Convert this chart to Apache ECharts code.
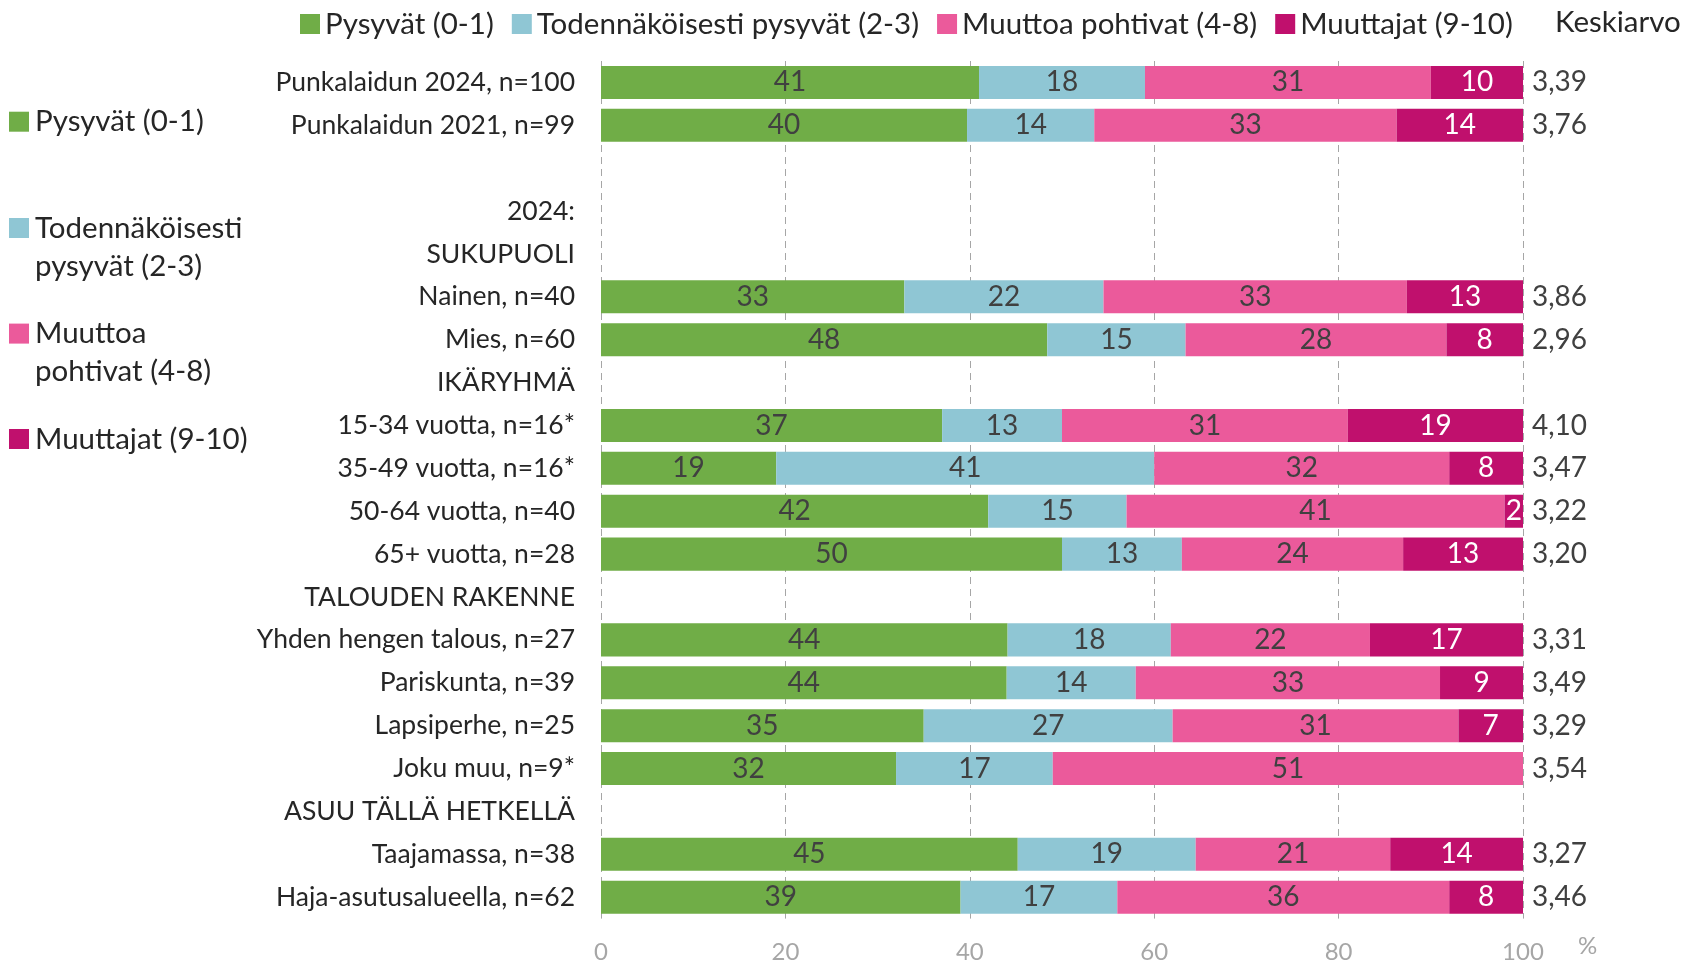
<!DOCTYPE html>
<html><head><meta charset="utf-8">
<script src="https://cdn.jsdelivr.net/npm/echarts@6/dist/echarts.min.js"></script>
<style>html,body{margin:0;padding:0;background:#fff}#c{width:1704px;height:973px}</style>
</head><body><div id="c"></div>
<script>
const categories = ['Punkalaidun 2024, n=100','Punkalaidun 2021, n=99','','2024:','SUKUPUOLI','Nainen, n=40','Mies, n=60','IKÄRYHMÄ','15-34 vuotta, n=16*','35-49 vuotta, n=16*','50-64 vuotta, n=40','65+ vuotta, n=28','TALOUDEN RAKENNE','Yhden hengen talous, n=27','Pariskunta, n=39','Lapsiperhe, n=25','Joku muu, n=9*','ASUU TÄLLÄ HETKELLÄ','Taajamassa, n=38','Haja-asutusalueella, n=62'];
const seriesNames = ['Pysyvät (0-1)','Todennäköisesti pysyvät (2-3)','Muuttoa pohtivat (4-8)','Muuttajat (9-10)'];
const leftLegendLabels = ['Pysyvät (0-1)','Todennäköisesti\npysyvät (2-3)','Muuttoa\npohtivat (4-8)','Muuttajat (9-10)'];
const pysyvat        = [41, 39.7, null, null, null, 32.9, 48.4, null, 37, 19, 42, 50, null, 44.1, 44, 35, 32, null, 45.2, 39];
const todennakoisesti= [18, 13.8, null, null, null, 21.6, 15.0, null, 13, 41, 15, 13, null, 17.7, 14, 27, 17, null, 19.3, 17];
const muuttoa        = [31, 32.8, null, null, null, 32.9, 28.3, null, 31, 32, 41, 24, null, 21.6, 33, 31, 51, null, 21.1, 36];
const muuttajat      = [10, 13.7, null, null, null, 12.6, 8.3, null, 19, 8, 2, 13, null, 16.6, 9, 7, 0, null, 14.4, 8];
const keskiarvo      = [3.39, 3.76, null, null, null, 3.86, 2.96, null, 4.10, 3.47, 3.22, 3.20, null, 3.31, 3.49, 3.29, 3.54, null, 3.27, 3.46];
const xTicks = [0, 20, 40, 60, 80, 100];

const colors = ['#70ad47', '#8fc6d4', '#eb5a9b', '#c0106d'];
const labelColors = ['#404040', '#404040', '#404040', '#ffffff'];
const FONT = 'Lato';
const FS_CAT = 26.5;
const FS_VAL = 28;
const FS_LEG = 29.5;

const chart = echarts.init(document.getElementById('c'), null, {renderer: 'canvas'});
const values = [pysyvat, todennakoisesti, muuttoa, muuttajat];

const series = seriesNames.map((name, i) => ({
  name: name,
  type: 'bar',
  stack: 'total',
  barCategoryGap: '23%',
  itemStyle: {color: colors[i]},
  label: {
    show: true,
    position: 'inside',
    color: labelColors[i],
    fontFamily: FONT,
    fontSize: FS_VAL,
    formatter: p => (p.value == null || p.value === 0) ? '' : String(Math.round(p.value))
  },
  data: values[i]
}));

const legendY = [121.7, 228, 333.6, 439];
const leftLegend = [];
leftLegendLabels.forEach((t, i) => {
  leftLegend.push({type: 'rect', shape: {x: 9, y: legendY[i] - 10, width: 20, height: 20}, style: {fill: colors[i]}});
  leftLegend.push({type: 'text', x: 35, y: legendY[i] - 19, style: {text: t, font: FS_LEG + 'px ' + FONT, fill: '#262626', lineHeight: 38, textVerticalAlign: 'top'}});
});

chart.setOption({
  animation: false,
  backgroundColor: '#ffffff',
  textStyle: {fontFamily: FONT},
  legend: {
    data: seriesNames,
    left: 295, top: 4,
    itemWidth: 20, itemHeight: 20, itemGap: 18,
    icon: 'rect',
    textStyle: {fontSize: FS_LEG, color: '#262626', fontFamily: FONT}
  },
  grid: {left: 601, top: 61, width: 922, height: 857.6},
  xAxis: {
    type: 'value', min: 0, max: 100, interval: 20,
    axisLine: {show: false}, axisTick: {show: false},
    axisLabel: {color: '#a6a6a6', fontSize: 24, fontFamily: FONT, margin: 22,
      formatter: v => xTicks.includes(v) ? String(v) : ''},
    splitLine: {show: true, lineStyle: {color: '#a6a6a6', width: 1, type: [7, 5]}}
  },
  yAxis: [{
    type: 'category', data: categories, inverse: true,
    axisLine: {show: false}, axisTick: {show: false},
    axisLabel: {color: '#262626', fontSize: FS_CAT, fontFamily: FONT, margin: 26}
  }, {
    type: 'category', data: categories, inverse: true, position: 'right',
    axisLine: {show: false}, axisTick: {show: false},
    axisLabel: {color: '#404040', fontSize: FS_VAL, fontFamily: FONT, margin: 9,
      formatter: (v, idx) => keskiarvo[idx] == null ? '' : keskiarvo[idx].toFixed(2).replace('.', ',')}
  }],
  graphic: [
    {type: 'text', x: 1555, y: 22.7, style: {text: 'Keskiarvo', font: FS_LEG + 'px ' + FONT, fill: '#262626', textVerticalAlign: 'middle'}},
    {type: 'text', x: 1578, y: 946.7, style: {text: '%', font: '24px ' + FONT, fill: '#a6a6a6', textVerticalAlign: 'middle'}}
  ].concat(leftLegend),
  series: series
});
</script>
</body></html>
